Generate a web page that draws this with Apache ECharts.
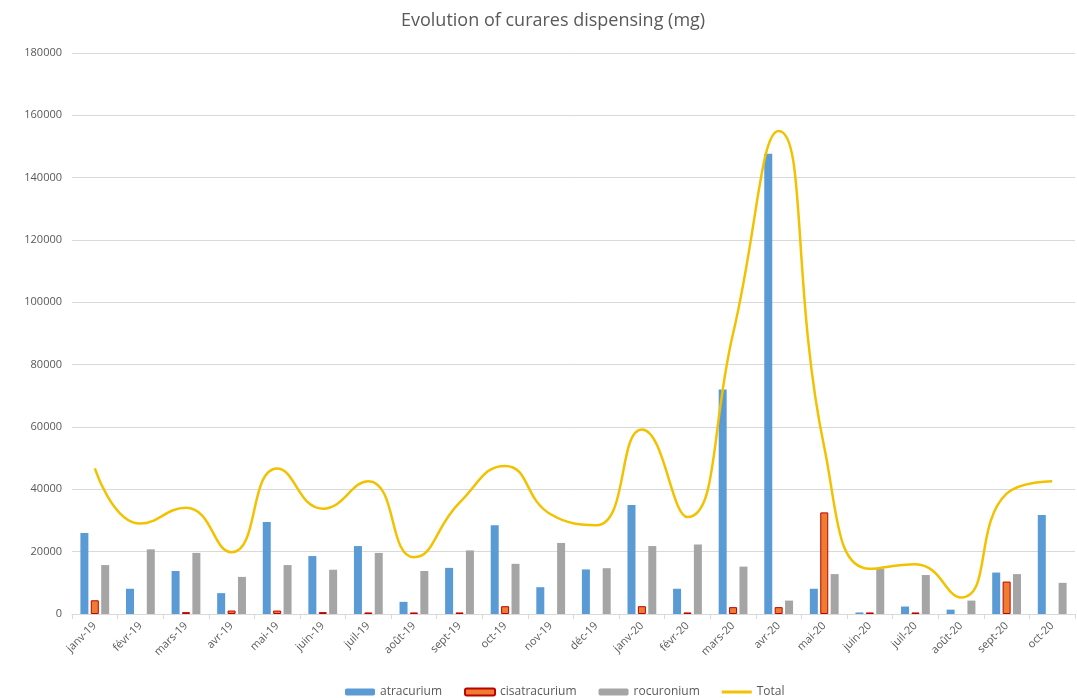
<!DOCTYPE html>
<html>
<head>
<meta charset="utf-8">
<script src="https://cdn.jsdelivr.net/npm/echarts@6/dist/echarts.min.js"></script>
<style>html,body{margin:0;padding:0;background:#fff}#c{width:1077px;height:698px}</style>
</head>
<body>
<div id="c"></div>
<script>
const categories = ['janv-19','févr-19','mars-19','avr-19','mai-19','juin-19','juil-19','août-19','sept-19','oct-19','nov-19','déc-19','janv-20','févr-20','mars-20','avr-20','mai-20','juin-20','juil-20','août-20','sept-20','oct-20'];
const atracurium    = [26000, 8100, 13800, 6700, 29500, 18600, 21800, 3900, 14800, 28500, 8600, 14300, 35000, 8100, 72000, 147700, 8100, 500, 2400, 1400, 13300, 31800];
const cisatracurium = [4400, null, 600, 1100, 1100, 600, 500, 500, 500, 2500, null, null, 2500, 500, 2200, 2200, 32600, 500, 500, null, 10400, null];
const rocuronium    = [15700, 20750, 19600, 11900, 15700, 14200, 19600, 13800, 20400, 16100, 22800, 14700, 21800, 22300, 15200, 4300, 12800, 14600, 12500, 4300, 12800, 10000];
const total         = [46700, 29000, 34100, 19800, 46700, 33800, 42600, 18200, 35700, 47500, 32000, 28500, 59200, 31100, 90000, 155000, 53500, 14500, 16000, 5300, 38600, 42600];
const yTicks = {min: 0, max: 180000, interval: 20000};

const chart = echarts.init(document.getElementById('c'));
const txt = '#595959';
const font = 'Open Sans';
chart.setOption({
  animation: false,
  title: {text: 'Evolution of curares dispensing (mg)', left: 396, top: 7,
    textStyle: {color: txt, fontSize: 18, fontWeight: 'normal', fontFamily: font}},
  legend: {top: 681, left: 340, itemWidth: 30, itemHeight: 7, itemGap: 22,
    textStyle: {color: txt, fontSize: 12, fontFamily: font},
    data: ['atracurium','cisatracurium','rocuronium', {name:'Total', icon:'path://M0,0 L30,0 L30,3 L0,3 Z'}]},
  grid: {left: 72, right: 2, top: 53, bottom: 84},
  xAxis: {type: 'category', data: categories,
    axisLine: {lineStyle: {color: '#d9d9d9'}},
    axisTick: {show: true, length: 5, lineStyle: {color: '#d9d9d9'}},
    axisLabel: {rotate: 45, color: txt, fontSize: 11, fontFamily: font, interval: 0, margin: 10}},
  yAxis: {type: 'value', min: yTicks.min, max: yTicks.max, interval: yTicks.interval,
    axisLine: {show: false}, axisTick: {show: false},
    axisLabel: {color: txt, fontSize: 11, fontFamily: font, margin: 10, formatter: v => String(v)},
    splitLine: {lineStyle: {color: '#d9d9d9'}}},
  series: [
    {name: 'atracurium', type: 'bar', data: atracurium, barWidth: 8, barGap: '30%',
      itemStyle: {color: '#5B9BD5'}},
    {name: 'cisatracurium', type: 'bar', data: cisatracurium, barWidth: 8, barGap: '30%',
      itemStyle: {color: '#ED7D31', borderColor: '#C00000', borderWidth: 1}},
    {name: 'rocuronium', type: 'bar', data: rocuronium, barWidth: 8, barGap: '30%',
      itemStyle: {color: '#A5A5A5'}},
    {name: 'Total', type: 'line', data: total, smooth: 0.5, symbol: 'none',
      lineStyle: {color: '#F2C200', width: 2.5}, itemStyle: {color: '#F2C200'}, z: 5}
  ]
});
</script>
</body>
</html>
